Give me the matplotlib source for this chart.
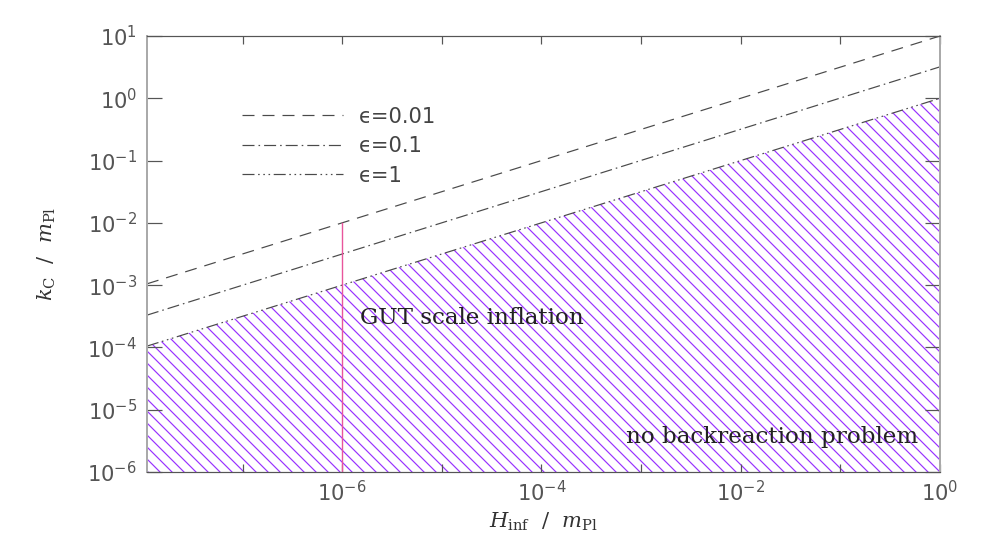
import math
import matplotlib
matplotlib.use('Agg')
import matplotlib.pyplot as plt
from matplotlib.ticker import LogLocator, FuncFormatter, NullLocator

# --- dados ---
H_inf = [1.1e-8, 1.0]                 # H_inf / m_Pl (extremos das retas)
kc_eps001 = [1.05e-3, 10.0]           # eps = 0.01
kc_eps01 = [3.3e-4, 3.2]              # eps = 0.1
kc_eps1 = [1.05e-4, 1.0]              # eps = 1
eps_labels = ['\u03f5=0.01', '\u03f5=0.1', '\u03f5=1']
k_bottom = 1e-6

H_gut = [1e-6, 1e-6]                  # linha vertical da inflação GUT
kc_gut = [1e-6, 1e-2]

DPI = 144
plt.rcParams['lines.scale_dashes'] = False
plt.rcParams['hatch.linewidth'] = 0.6

fig = plt.figure(figsize=(981 / DPI, 545 / DPI), dpi=DPI)
ax = fig.add_axes([147 / 981, 1 - 472 / 545, 793 / 981, 436 / 545])

cor_linha = '#4a4a4a'
cor_hatch = '#9933ff'

# região sem problema de backreaction (abaixo de eps=1)
ax.fill_between(H_inf, kc_eps1, k_bottom, facecolor='none', edgecolor=cor_hatch,
                hatch='\\\\\\\\', linewidth=0)

l1, = ax.plot(H_inf, kc_eps001, color=cor_linha, lw=0.6, dashes=(6, 4))
l2, = ax.plot(H_inf, kc_eps01, color=cor_linha, lw=0.6, dashes=(6, 2, 0.8, 2))
l3, = ax.plot(H_inf, kc_eps1, color=cor_linha, lw=0.6,
              dashes=(6, 1.8, 0.8, 1.8, 0.8, 1.8, 0.8, 1.8))
ax.plot(H_gut, kc_gut, color='#e8559c', lw=0.7)

ax.set_xscale('log')
ax.set_yscale('log')
ax.set_xlim(H_inf[0], 1)
ax.set_ylim(1e-6, 10)

# ticks estilo IDL
ax.xaxis.set_major_locator(LogLocator(base=10, numticks=20))
ax.xaxis.set_minor_locator(NullLocator())
ax.yaxis.set_major_locator(LogLocator(base=10, numticks=20))
ax.yaxis.set_minor_locator(NullLocator())


def fmt_x(v, pos):
    e = int(round(math.log10(v)))
    if e % 2 == 0 and -6 <= e <= 0:
        return r'$10^{%d}$' % e
    return ''


def fmt_y(v, pos):
    e = int(round(math.log10(v)))
    if -6 <= e <= 1:
        return r'$10^{%d}$' % e
    return ''


ax.xaxis.set_major_formatter(FuncFormatter(fmt_x))
ax.yaxis.set_major_formatter(FuncFormatter(fmt_y))
ax.tick_params(axis='x', which='major', direction='in', length=4, width=0.6,
               top=True, pad=4, labelsize=10.5, colors='#555555', labelcolor='#555555')
ax.tick_params(axis='y', which='major', direction='in', length=7.5, width=0.6,
               right=True, pad=5, labelsize=10.5, colors='#555555', labelcolor='#555555')

for s in ['left', 'right']:
    ax.spines[s].set_color('#aaaaaa')
    ax.spines[s].set_linewidth(1.0)
for s in ['top', 'bottom']:
    ax.spines[s].set_color('#555555')
    ax.spines[s].set_linewidth(0.6)

ax.set_xlabel(r'$H_{\rm inf}\ \ /\ \ m_{\rm Pl}$', fontsize=10.5, color='#333333',
              math_fontfamily='dejavuserif')
ax.set_ylabel(r'$k_{\rm C}\ \ /\ \ m_{\rm Pl}$', fontsize=10.5, color='#333333',
              math_fontfamily='dejavuserif')
ax.xaxis.set_label_coords(0.5, -0.088)
ax.yaxis.set_label_coords(-0.112, 0.5)

leg = ax.legend([l1, l2, l3], eps_labels, frameon=False, fontsize=10.5,
                handlelength=4.8, handletextpad=0.75, labelspacing=0.45,
                loc='upper left', bbox_to_anchor=(0.12, 0.838),
                borderaxespad=0, borderpad=0)
for t in leg.get_texts():
    t.set_color('#444444')

ax.text(1.5e-6, 10 ** -3.53, 'GUT scale inflation', family='DejaVu Serif',
        fontsize=11.5, color='#222222', ha='left', va='center')
ax.text(0.6, 10 ** -5.44, 'no backreaction problem', family='DejaVu Serif',
        fontsize=11.5, color='#222222', ha='right', va='center')

fig.savefig('out.png', dpi=DPI)
